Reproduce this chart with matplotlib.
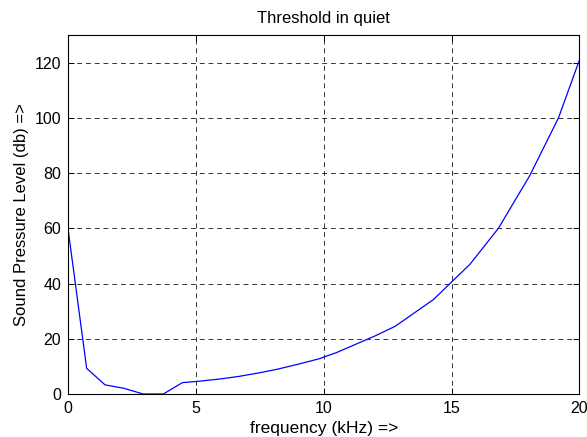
import matplotlib
matplotlib.use("Agg")
import matplotlib.pyplot as plt

# threshold in quiet
freq_khz = [0.0, 0.73, 1.45, 2.17, 2.94, 3.73, 4.47, 5.2, 6.0, 6.7, 7.5, 8.2,
            9.0, 9.8, 10.5, 11.2, 12.0, 12.79, 14.29, 15.72, 16.83, 18.05, 19.18, 20.0]
spl_db = [60.0, 9.3, 3.3, 2.1, 0.0, 0.0, 4.1, 4.7, 5.5, 6.4, 7.7, 9.0,
          10.8, 12.7, 15.0, 17.8, 21.0, 24.5, 34.2, 47.0, 60.0, 79.0, 100.0, 121.0]
xticks = [0, 5, 10, 15, 20]
yticks = [0, 20, 40, 60, 80, 100, 120]

plt.rcParams['font.family'] = ['Liberation Sans', 'DejaVu Sans']

fig = plt.figure(figsize=(5.87, 4.37), dpi=100)
ax = fig.add_axes([0.1158, 0.0984, 0.8714, 0.8215])
ax.plot(freq_khz, spl_db, color='#0000ff', lw=0.9)
ax.set_xlim(0, 20)
ax.set_ylim(0, 130)
ax.set_xticks(xticks)
ax.set_yticks(yticks)
ax.grid(True, color='black', linestyle=(0, (5, 4)), linewidth=0.7, alpha=0.8)
ax.tick_params(direction='in', top=True, right=True, length=4, width=0.7,
               pad=5, labelsize=11.5)
for s in ax.spines.values():
    s.set_linewidth(0.8)
ax.set_title('Threshold in quiet', fontsize=12, pad=9)
ax.set_xlabel('frequency (kHz) =>', fontsize=12.5, labelpad=4)
ax.set_ylabel('Sound Pressure Level (db) =>', fontsize=12, labelpad=4)

fig.savefig('out.png', dpi=100)
